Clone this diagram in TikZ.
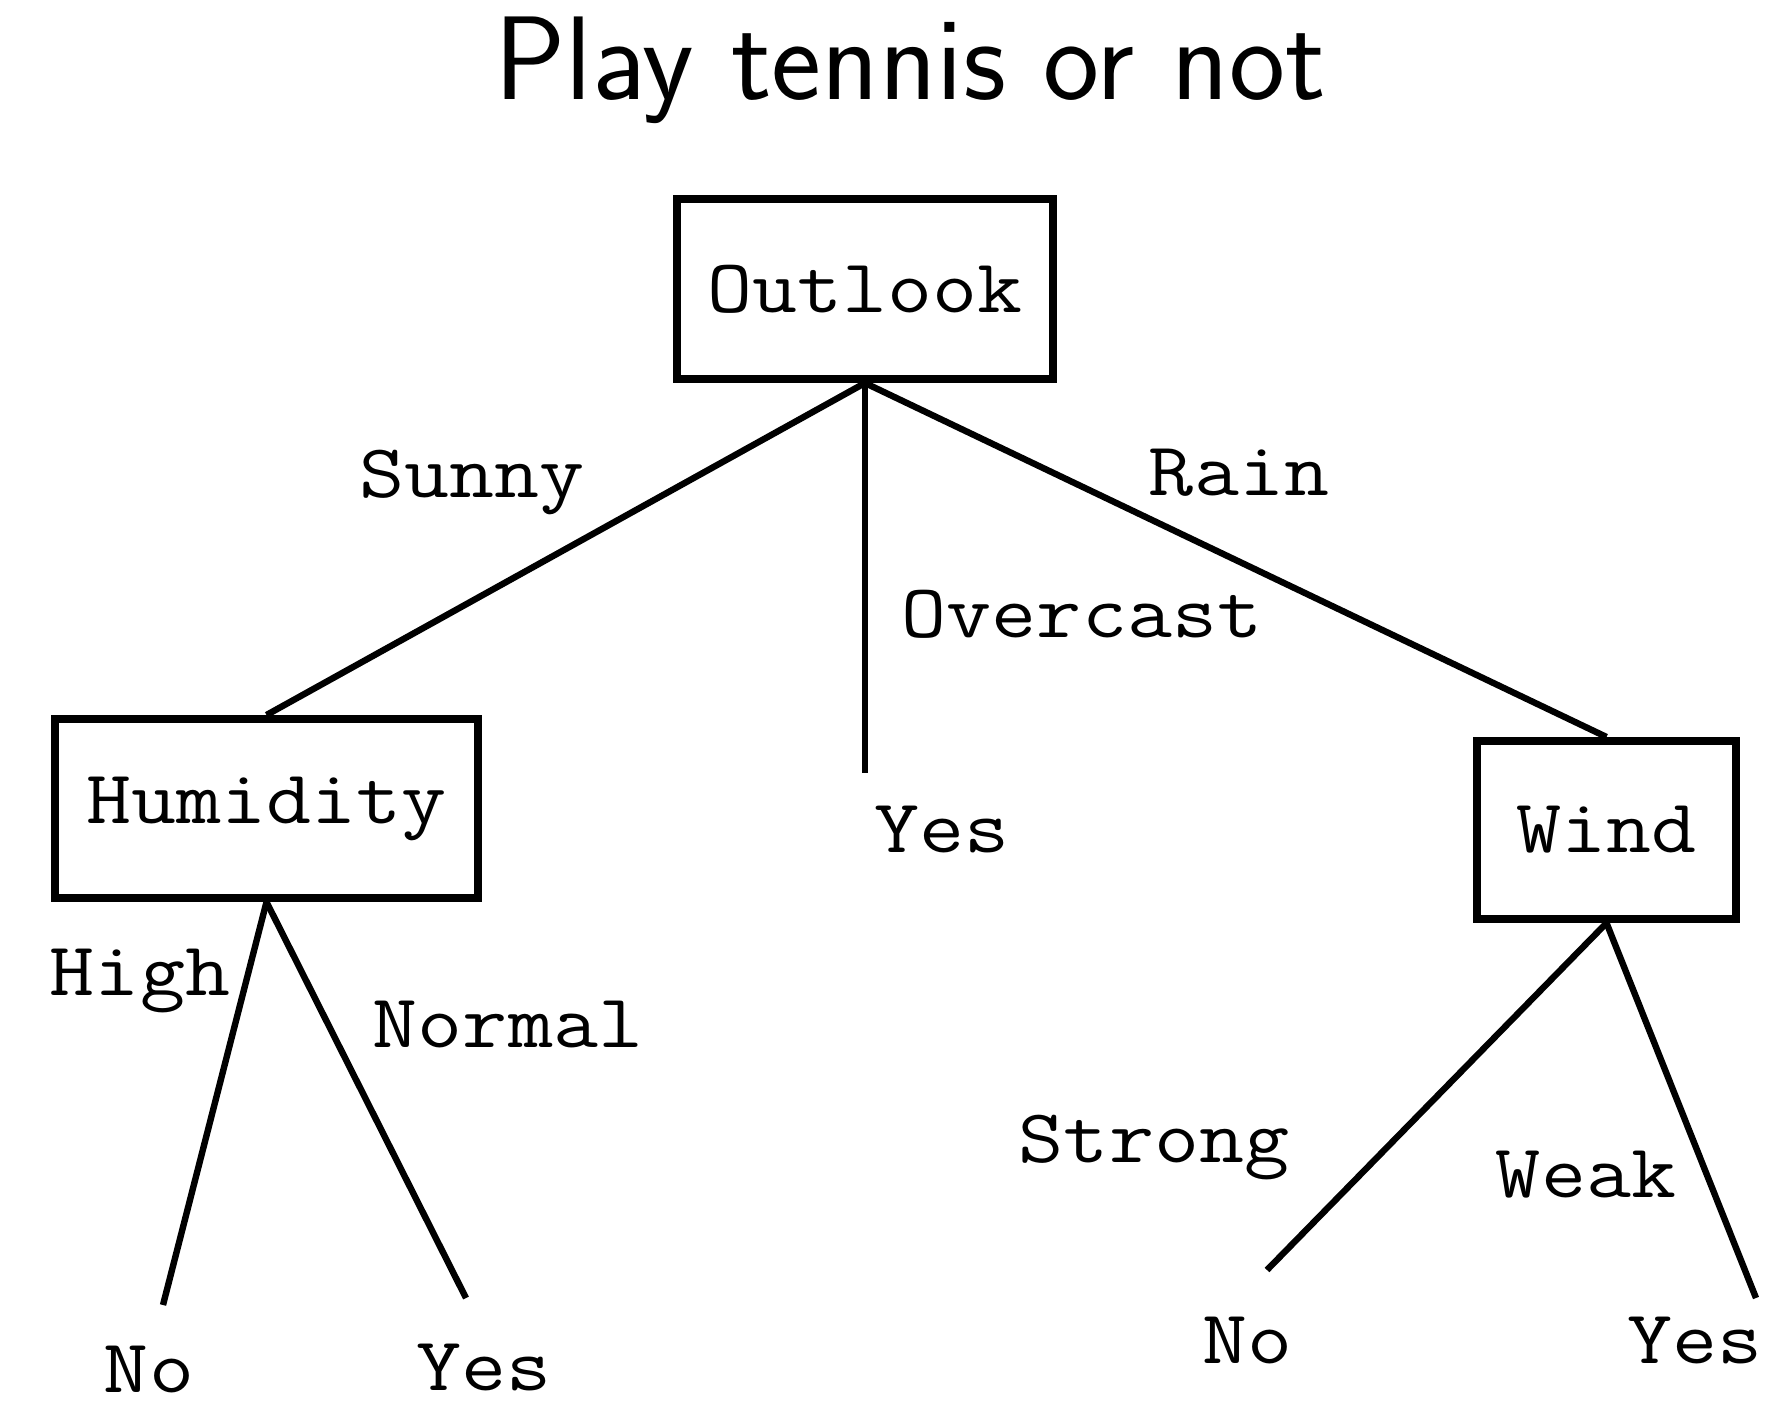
\documentclass[tikz,border=0pt]{standalone}
\usepackage{graphicx}
\newcommand\monofont{\ttfamily\fontsize{38}{40}\selectfont}
\newcommand\mt[1]{\scalebox{1.15}[1]{#1}}
\begin{document}
\begin{tikzpicture}[x=0.5pt,y=-0.5pt,
  box/.style={draw, line width=4pt, rectangle, inner sep=0pt, font=\monofont},
  edge/.style={line width=3.2pt},
  lbl/.style={font=\monofont, anchor=base, inner sep=0pt},
]
\useasboundingbox (0,0) rectangle (1783,1407);
\node[font=\sffamily\fontsize{59.5}{64}\selectfont, anchor=base, inner sep=0pt] (title) at (910,100) {Play tennis or not};

\node[box, minimum width=188pt, minimum height=90pt] (outlook) at (865,289) {\mt{Outlook}};
\node[box, minimum width=211.5pt, minimum height=89.5pt] (humidity) at (266.5,808.5) {\mt{Humidity}};
\node[box, minimum width=129.5pt, minimum height=89pt] (wind) at (1606.5,830) {\mt{Wind}};

\coordinate (oy) at (865,773);
\coordinate (hn) at (163,1305);
\coordinate (hy) at (466,1298);
\coordinate (wn) at (1267,1270);
\coordinate (wy) at (1756,1298);

\draw[edge] (outlook.south) -- (humidity.north);
\draw[edge] (outlook.south) -- (oy);
\draw[edge] (outlook.south) -- (wind.north);
\draw[edge] (humidity.south) -- (hn);
\draw[edge] (humidity.south) -- (hy);
\draw[edge] (wind.south) -- (wn);
\draw[edge] (wind.south) -- (wy);

\node[lbl] (sunny) at (472,497) {\mt{Sunny}};
\node[lbl] (rain) at (1239,495) {\mt{Rain}};
\node[lbl] (overcast) at (1082,637) {\mt{Overcast}};
\node[lbl] (yes1) at (942,852) {\mt{Yes}};
\node[lbl] (high) at (140,995) {\mt{High}};
\node[lbl] (normal) at (508,1047) {\mt{Normal}};
\node[lbl] (strong) at (1154,1162) {\mt{Strong}};
\node[lbl] (weak) at (1586,1197) {\mt{Weak}};
\node[lbl] (no1) at (149,1392) {\mt{No}};
\node[lbl] (yes2) at (484,1390) {\mt{Yes}};
\node[lbl] (no2) at (1247,1363) {\mt{No}};
\node[lbl] (yes3) at (1695,1363) {\mt{Yes}};
\end{tikzpicture}
\end{document}
